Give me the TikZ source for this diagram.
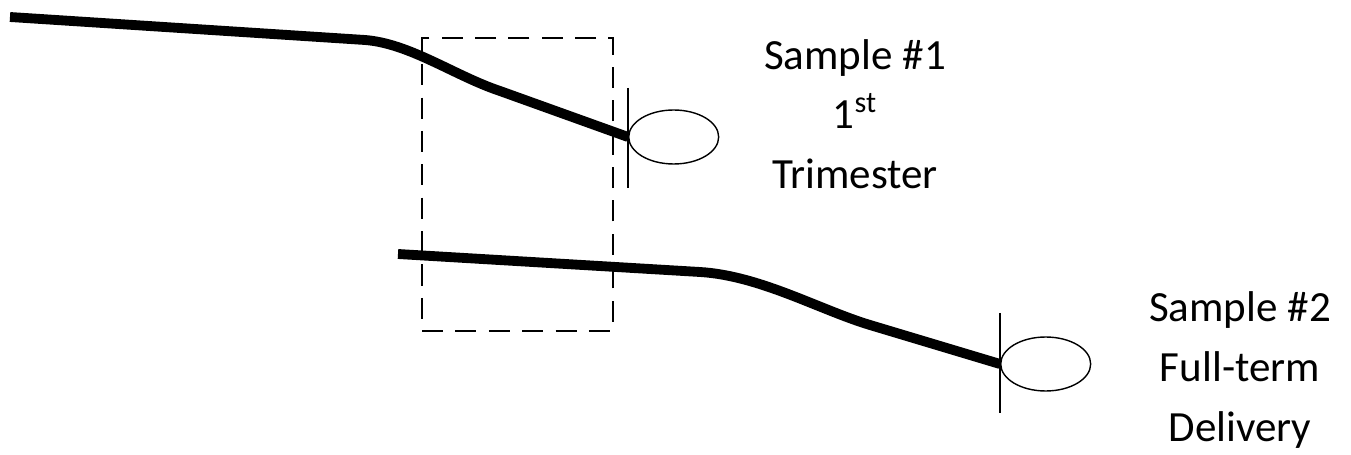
\documentclass[tikz,border=0pt]{standalone}
\usepackage{fontspec}
\setmainfont{Carlito}
\usetikzlibrary{shapes.geometric,positioning}

\begin{document}
\begin{tikzpicture}[
            x=0.02cm, y=-0.02cm,
            cord/.style={line width=5.6pt, line cap=butt, line join=round},
            sac/.style={ellipse, draw, line width=0.8pt, minimum width=1.8cm, minimum height=1.08cm, inner sep=0pt},
            clampbar/.style={line width=1.1pt},
            window/.style={draw, dashed, line width=0.9pt, dash pattern=on 12pt off 7pt},
            label/.style={align=center, font=\fontsize{24.5}{34}\selectfont}
        ]
            \useasboundingbox (0,0) rectangle (1351,455);

            % Sample 1
            \coordinate (start1) at (10,17);
            \node[sac, anchor=west] (sac1) at (628,137) {};
            \coordinate (bar1top) at (628,88);
            \coordinate (bar1bot) at (628,188);
            \draw[cord] (start1) -- (365,40) .. controls (410,43.5) and (455,76) .. (500,91) -- (sac1.west);
            \draw[clampbar] (bar1top) -- (bar1bot);

            % Sample 2
            \coordinate (start2) at (398,254);
            \node[sac, anchor=west] (sac2) at (1000,364) {};
            \coordinate (bar2top) at (1000,313);
            \coordinate (bar2bot) at (1000,413);
            \draw[cord] (start2) -- (700,272) .. controls (760,275.6) and (820,310) .. (870,325) -- (sac2.west);
            \draw[clampbar] (bar2top) -- (bar2bot);

            % Overlap window
            \node[window, minimum width=3.82cm, minimum height=5.86cm, inner sep=0pt] (overlap) at (517.5,184.5) {};

            % Labels
            \node[label] (lab1) at (855,114) {Sample \#1\\1\textsuperscript{st}\\Trimester};
            \node[label] (lab2) at (1240,370) {Sample \#2\\Full-term\\Delivery};
        \end{tikzpicture}
\end{document}
